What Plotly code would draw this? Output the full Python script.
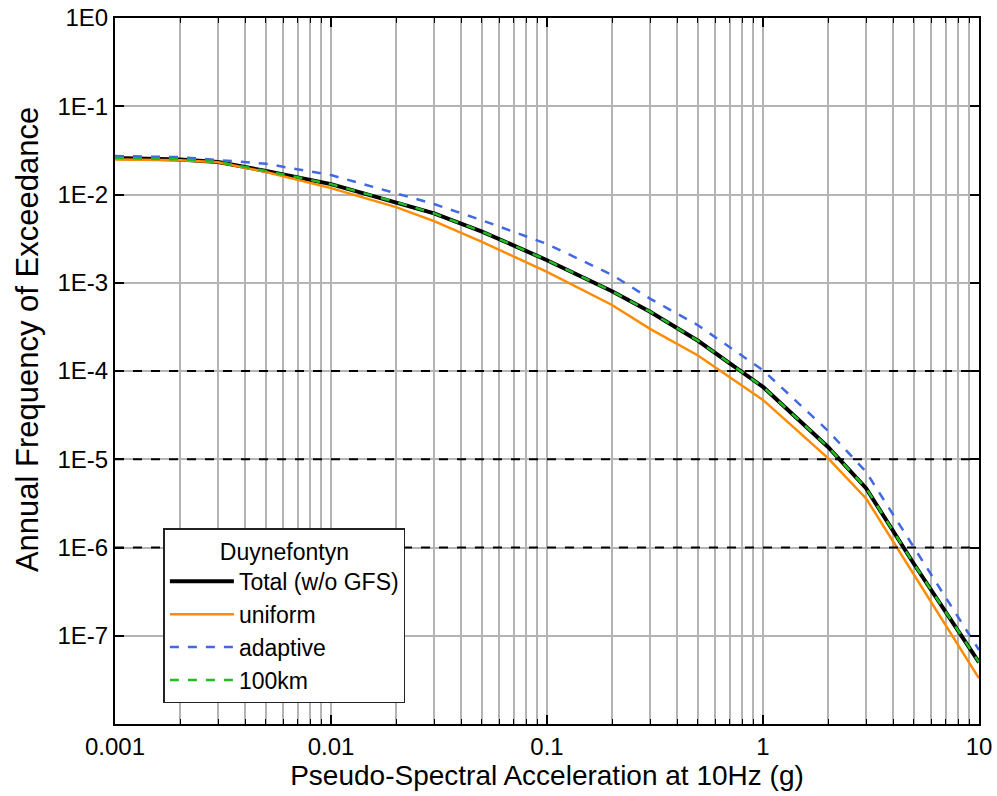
import plotly.graph_objects as go

# x values (g)
pga = [0.001, 0.002, 0.003, 0.005, 0.01, 0.02, 0.03, 0.05, 0.1, 0.2, 0.3, 0.5, 1, 2, 3, 5, 10]

total = [0.026, 0.025, 0.0234, 0.0185, 0.0131, 0.0082, 0.0061, 0.0038, 0.0018, 8.0e-4, 4.7e-4,
         2.2e-4, 6.6e-5, 1.38e-5, 4.7e-6, 6.5e-7, 5.0e-8]
uniform = [0.025, 0.0245, 0.0232, 0.018, 0.0118, 0.0072, 0.0050, 0.0029, 0.00133, 5.6e-4, 3.0e-4,
           1.5e-4, 4.7e-5, 1.03e-5, 3.6e-6, 4.9e-7, 3.3e-8]
adaptive = [0.0273, 0.0265, 0.0246, 0.0223, 0.0166, 0.0104, 0.0078, 0.0051, 0.00275, 1.23e-3, 6.6e-4,
            3.3e-4, 1.02e-4, 2.1e-5, 7.2e-6, 1.0e-6, 6.9e-8]
km100 = [0.026, 0.025, 0.0234, 0.0185, 0.0131, 0.0082, 0.0061, 0.0038, 0.0018, 8.0e-4, 4.7e-4,
         2.2e-4, 6.6e-5, 1.38e-5, 4.7e-6, 6.5e-7, 5.0e-8]

x_major = [0.001, 0.01, 0.1, 1, 10]
x_major_text = ["0.001", "0.01", "0.1", "1", "10"]
x_minor = [m * d for d in [0.001, 0.01, 0.1, 1] for m in range(2, 10)]
y_major = [1, 1e-1, 1e-2, 1e-3, 1e-4, 1e-5, 1e-6, 1e-7, 1e-8]
y_major_text = ["1E0", "1E-1", "1E-2", "1E-3", "1E-4", "1E-5", "1E-6", "1E-7", ""]
ref_levels = [1e-4, 1e-5, 1e-6]

FONT = "Liberation Sans, Arial, sans-serif"

fig = go.Figure()
fig.add_trace(go.Scatter(x=pga, y=total, mode="lines", name="Total (w/o GFS)",
                         line=dict(color="black", width=4)))
fig.add_trace(go.Scatter(x=pga, y=uniform, mode="lines", name="uniform",
                         line=dict(color="#ff8c00", width=2.5)))
fig.add_trace(go.Scatter(x=pga, y=adaptive, mode="lines", name="adaptive",
                         line=dict(color="#4169e1", width=2.5, dash="dash")))
fig.add_trace(go.Scatter(x=pga, y=km100, mode="lines", name="100km",
                         line=dict(color="#22bb22", width=2.5, dash="dash")))

for lv in ref_levels:
    fig.add_shape(type="line", xref="paper", x0=0, x1=1, yref="y", y0=lv, y1=lv,
                  line=dict(color="black", width=2, dash="dash"), layer="above")

fig.add_annotation(text="Annual Frequency of Exceedance", textangle=-90,
                   xref="paper", yref="paper", x=-0.102, y=0.545,
                   xanchor="center", yanchor="middle", showarrow=False,
                   font=dict(family=FONT, size=31, color="black"))

fig.update_layout(
    width=997, height=796,
    margin=dict(l=115, r=18, t=18, b=72),
    paper_bgcolor="white", plot_bgcolor="white",
    font=dict(family=FONT, size=24, color="black"),
    showlegend=True,
    legend=dict(
        x=0.056, y=0.277, xanchor="left", yanchor="top",
        bgcolor="white", bordercolor="#222222", borderwidth=1.5,
        font=dict(family=FONT, size=23, color="black"),
        title=dict(text="Duynefontyn", side="top center", font=dict(family=FONT, size=23)),
        itemwidth=64,
    ),
    xaxis=dict(
        type="log", range=[-3, 1], automargin=False, ticklabeloverflow="allow",
        tickmode="array", tickvals=x_major, ticktext=x_major_text,
        ticks="inside", ticklen=9, tickwidth=1.5, tickcolor="black",
        showline=True, linecolor="black", linewidth=2, mirror="allticks",
        showgrid=True, gridcolor="#b4b4b4", gridwidth=1.5,
        minor=dict(tickmode="array", tickvals=x_minor, ticks="inside", ticklen=5,
                   tickwidth=1.2, tickcolor="black", showgrid=True,
                   gridcolor="#b4b4b4", gridwidth=1.5),
        title=dict(text="Pseudo-Spectral Acceleration at 10Hz (g)", font=dict(size=28), standoff=6),
        tickfont=dict(size=24),
        zeroline=False,
    ),
    yaxis=dict(
        type="log", range=[-8, 0], automargin=False, ticklabeloverflow="allow",
        tickmode="array", tickvals=y_major, ticktext=y_major_text,
        ticks="inside", ticklen=9, tickwidth=1.5, tickcolor="black",
        showline=True, linecolor="black", linewidth=2, mirror="allticks",
        showgrid=True, gridcolor="#b4b4b4", gridwidth=1.5,
        tickfont=dict(size=24),
        zeroline=False,
    ),
)

fig.write_html("out.html")
